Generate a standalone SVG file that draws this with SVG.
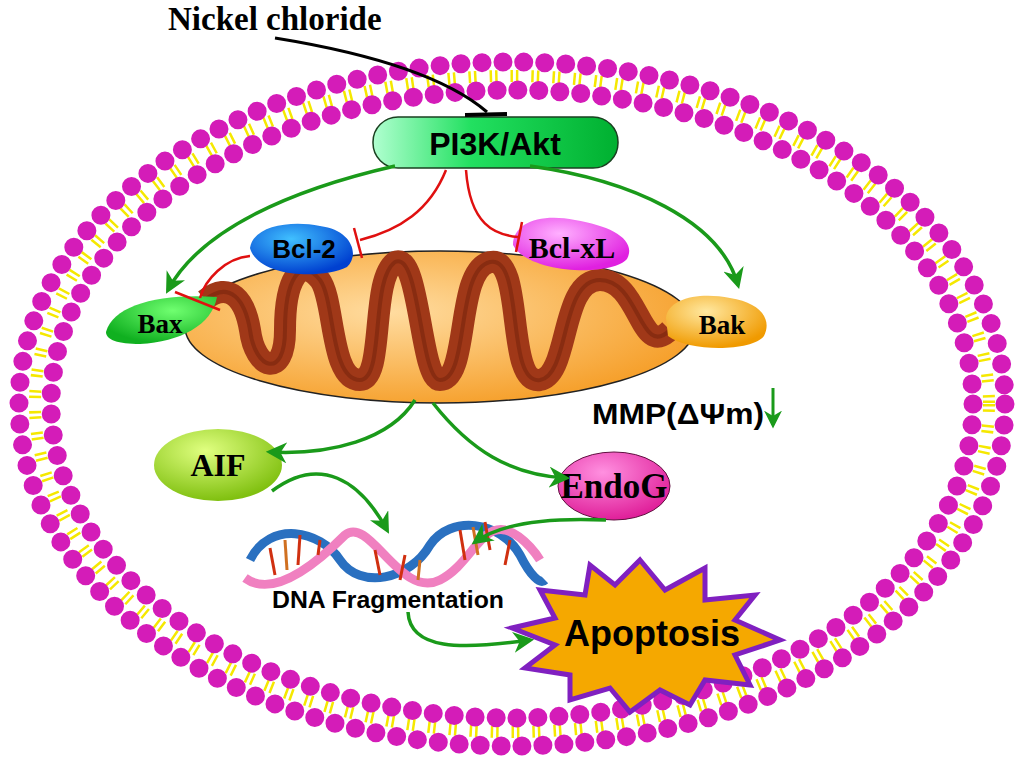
<svg xmlns="http://www.w3.org/2000/svg" width="1024" height="776" viewBox="0 0 1024 776">
<defs>
<marker id="ga" viewBox="0 0 10 10" refX="8" refY="5" markerWidth="6" markerHeight="6" orient="auto"><path d="M0,0L10,5L0,10L3,5z" fill="#1a9a1a"/></marker>
<linearGradient id="pi" x1="0" y1="0" x2="1" y2="0"><stop offset="0" stop-color="#b0ffd0"/><stop offset="0.4" stop-color="#22e060"/><stop offset="1" stop-color="#00b030"/></linearGradient>
<radialGradient id="mito" cx="40%" cy="40%" r="70%"><stop offset="0" stop-color="#ffdca0"/><stop offset="1" stop-color="#f59a20"/></radialGradient>
<radialGradient id="blue" cx="40%" cy="30%" r="70%"><stop offset="0" stop-color="#40c0ff"/><stop offset="1" stop-color="#0040d0"/></radialGradient>
<radialGradient id="mag" cx="40%" cy="30%" r="70%"><stop offset="0" stop-color="#ffb0ff"/><stop offset="1" stop-color="#e020e0"/></radialGradient>
<radialGradient id="grn" cx="60%" cy="30%" r="70%"><stop offset="0" stop-color="#70ff70"/><stop offset="1" stop-color="#10b020"/></radialGradient>
<radialGradient id="org" cx="40%" cy="30%" r="70%"><stop offset="0" stop-color="#ffe8a0"/><stop offset="1" stop-color="#f09a00"/></radialGradient>
<radialGradient id="aif" cx="40%" cy="30%" r="70%"><stop offset="0" stop-color="#e0ff80"/><stop offset="1" stop-color="#80c010"/></radialGradient>
<radialGradient id="endo" cx="40%" cy="30%" r="70%"><stop offset="0" stop-color="#ff90e0"/><stop offset="1" stop-color="#e0209a"/></radialGradient>
</defs>
<style>
.b{fill:none;stroke:#d41cb8;stroke-width:19;stroke-linecap:round;stroke-dasharray:0 21}
.t{fill:none;stroke:#f5e800;stroke-width:12;stroke-dasharray:2.5 3 2.5 13}
.tx{font-family:"Liberation Serif",serif;font-weight:bold;fill:#000}
.sx{font-family:"Liberation Sans",Arial,sans-serif;font-weight:bold;fill:#000}
.g{fill:none;stroke:#1a9a1a;stroke-width:3.5;marker-end:url(#ga)}
.r{fill:none;stroke:#e01010;stroke-width:2.5}
</style>
<rect width="1024" height="776" fill="#fff"/>
<g id="membrane">
<ellipse cx="512" cy="404" rx="477" ry="328" class="t"/>
<ellipse cx="512" cy="404" rx="493" ry="342" class="b"/>
<ellipse cx="512" cy="404" rx="461" ry="314" class="b"/>
</g>
<g id="mitochondrion">
<ellipse cx="440" cy="327" rx="255" ry="76" fill="url(#mito)" stroke="#222" stroke-width="1.5"/>
<path d="M205,300 C230,280 245,300 250,330 C255,370 285,380 285,330 C285,280 300,255 320,280 C335,300 330,380 360,380 C385,380 370,280 395,262 C420,250 420,380 440,380 C470,380 455,270 490,262 C525,255 505,385 540,380 C570,375 560,280 600,280 C640,280 640,360 670,330" fill="none" stroke="#a03818" stroke-width="22" stroke-linejoin="round"/>
<path d="M205,300 C230,280 245,300 250,330 C255,370 285,380 285,330 C285,280 300,255 320,280 C335,300 330,380 360,380 C385,380 370,280 395,262 C420,250 420,380 440,380 C470,380 455,270 490,262 C525,255 505,385 540,380 C570,375 560,280 600,280 C640,280 640,360 670,330" fill="none" stroke="#6a1e08" stroke-width="4" opacity="0.45"/>
</g>
<g id="nickel"><text x="168" y="30" class="tx" font-size="33">Nickel chloride</text></g>
<g id="pi3k">
<rect x="373" y="117" width="245" height="51" rx="25" fill="url(#pi)" stroke="#1a4020" stroke-width="1.5"/>
<text x="495" y="155" class="sx" font-size="32" text-anchor="middle">PI3K/Akt</text>
</g>
<g id="bcl2">
<path d="M250,248 C253,226 290,220 320,226 C352,230 360,255 347,267 C320,280 258,277 250,248z" fill="url(#blue)"/>
<text x="304" y="258" class="sx" font-size="26" text-anchor="middle">Bcl-2</text>
</g>
<g id="bclxl">
<path d="M513,245 C513,223 540,213 575,220 C612,226 637,240 627,259 C612,277 528,274 513,245z" fill="url(#mag)"/>
<text x="572" y="258" class="tx" font-size="30" text-anchor="middle">Bcl-xL</text>
</g>
<g id="bax">
<path d="M106,332 C113,305 160,293 217,297 C212,325 180,342 140,344 C118,344 106,340 106,332z" fill="url(#grn)"/>
<text x="160" y="333" class="tx" font-size="27" text-anchor="middle">Bax</text>
</g>
<g id="bak">
<path d="M666,318 C668,298 700,292 730,298 C762,303 772,320 764,336 C752,352 688,352 668,336z" fill="url(#org)"/>
<text x="722" y="334" class="tx" font-size="27" text-anchor="middle">Bak</text>
</g>
<g id="mmp"><text x="592" y="424" class="sx" font-size="30" textLength="172" lengthAdjust="spacingAndGlyphs">MMP(ΔΨm)</text></g>
<g id="aif">
<ellipse cx="218" cy="465" rx="64" ry="36" fill="url(#aif)"/>
<text x="218" y="476" class="tx" font-size="32" text-anchor="middle">AIF</text>
</g>
<g id="endog">
<ellipse cx="614" cy="486" rx="56" ry="34" fill="url(#endo)" stroke="#601040" stroke-width="1"/>
<text x="614" y="498" class="tx" font-size="35" text-anchor="middle">EndoG</text>
</g>
<g id="dna">
<path d="M250,560 C270,520 320,530 340,560 C360,590 410,580 430,545 C450,515 500,520 520,555 C530,575 540,585 545,580" fill="none" stroke="#2a70c0" stroke-width="9"/>
<path d="M245,578 C275,600 320,560 345,535 C370,515 400,600 440,580 C470,565 480,525 505,530 C525,535 540,560 540,560" fill="none" stroke="#f080c0" stroke-width="9"/>
<g stroke="#d03010" stroke-width="3">
<path d="M270,548 L275,575"/><path d="M300,535 L298,565"/><path d="M320,540 L318,555"/><path d="M380,575 L375,550"/><path d="M400,580 L405,555"/><path d="M460,530 L465,560"/><path d="M485,522 L490,550"/><path d="M510,540 L505,565"/>
</g>
<g stroke="#d07020" stroke-width="3"><path d="M285,540 L287,570"/><path d="M420,560 L418,580"/><path d="M473,527 L478,555"/></g>
<text x="272" y="608" class="sx" font-size="24" textLength="232" lengthAdjust="spacingAndGlyphs">DNA Fragmentation</text>
</g>
<g id="apoptosis">
<polygon points="640,560 665,590 705,568 705,600 755,595 735,620 780,640 735,655 750,685 705,680 690,705 660,690 630,712 610,688 570,700 570,675 525,668 555,645 512,628 555,618 540,590 585,595 590,565 615,585" fill="#f5a800" stroke="#8020c0" stroke-width="5"/>
<text x="652" y="646" class="sx" font-size="36" text-anchor="middle">Apoptosis</text>
</g>
<g id="connectors">
<path d="M275,38 C380,55 450,80 487,112" fill="none" stroke="#000" stroke-width="3"/>
<path d="M465,115 L507,114" stroke="#000" stroke-width="4"/>
<path d="M395,166 C290,190 200,230 168,290" class="g"/>
<path d="M530,166 C630,180 720,220 738,285" class="g"/>
<path d="M446,170 C430,210 400,230 360,240" class="r"/><path d="M354,228 L362,258" class="r"/>
<path d="M466,170 C470,225 495,235 518,237" class="r"/><path d="M522,222 L516,252" class="r"/>
<path d="M250,256 C225,258 205,280 200,298" class="r"/><path d="M175,292 L220,310" class="r"/>
<path d="M415,400 C390,440 330,455 270,452" class="g"/>
<path d="M433,403 C470,450 510,475 566,478" class="g"/>
<path d="M272,491 C320,455 360,480 387,530" class="g"/>
<path d="M606,520 C560,518 505,520 475,542" class="g"/>
<path d="M408,612 C410,650 460,650 530,640" class="g"/>
<path d="M773,388 L773,425" stroke="#1a9a1a" stroke-width="3" marker-end="url(#ga)"/>
</g>
</svg>
